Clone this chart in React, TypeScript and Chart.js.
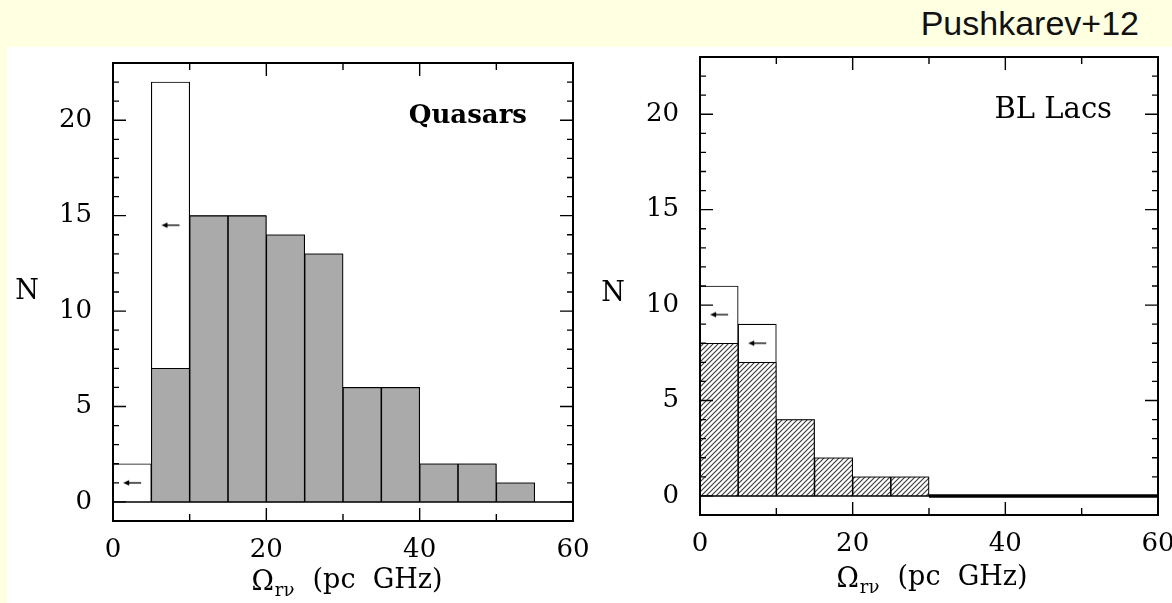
import React, { useEffect, useRef } from "react";
import { Chart, registerables } from "chart.js";

Chart.register(...registerables);

// ---- histogram data: Omega_r-nu in bins of 5 pc GHz ----
const binCenters = [2.5, 7.5, 12.5, 17.5, 22.5, 27.5, 32.5, 37.5, 42.5, 47.5, 52.5, 57.5];

// Quasars: measured values (filled) and measured + upper limits (open)
const quasarMeasured = [null, 7, 15, 15, 14, 13, 6, 6, 2, 2, 1, null];
const quasarWithLimits = [2, 22, 15, 15, 14, 13, 6, 6, 2, 2, 1, null];
const quasarLimitBins = [2.5, 7.5];
const quasarLimitLevels = [1, 14.5];
const quasarBaselineX = [0, 60];

// BL Lacs
const bllacMeasured = [8, 7, 4, 2, 1, 1, null, null, null, null, null, null];
const bllacWithLimits = [11, 9, 4, 2, 1, 1, null, null, null, null, null, null];
const bllacLimitBins = [2.5, 7.5];
const bllacLimitLevels = [9.5, 8];
const bllacBaselineX = [0, 60];
const bllacEmptyRangeX = [30, 60];

// axes
const xRange = [0, 60];
const yRange = [-1, 23];
const xLabelValues = [0, 20, 40, 60];
const yLabelValues = [0, 5, 10, 15, 20];
const xMajorStep = 20;
const xMinorStep = 10;
const yMajorStep = 5;
const yMinorStep = 1;

const SERIF = '"DejaVu Serif", "Liberation Serif", serif';
const BG = "rgb(255,255,225)";
const GREY = "#aaaaaa";

type Panel = {
  canvasLeft: number;
  canvasTop: number;
  canvasWidth: number;
  canvasHeight: number;
  area: { left: number; top: number; right: number; bottom: number };
  measured: (number | null)[];
  withLimits: (number | null)[];
  limitX: number[];
  limitY: number[];
  baselineX: number[];
  heavyBaselineX: number[] | null;
  hatched: boolean;
  label: string;
  labelFont: string;
  labelRight: number;
  labelBaseline: number;
  nX: number;
  nY: number;
  titleX: number;
  titleBaseline: number;
};

const quasarPanel: Panel = {
  canvasLeft: 0,
  canvasTop: 47,
  canvasWidth: 640,
  canvasHeight: 556,
  area: { left: 113, top: 63, right: 573, bottom: 521 },
  measured: quasarMeasured,
  withLimits: quasarWithLimits,
  limitX: quasarLimitBins,
  limitY: quasarLimitLevels,
  baselineX: quasarBaselineX,
  heavyBaselineX: null,
  hatched: false,
  label: "Quasars",
  labelFont: `bold 26px ${SERIF}`,
  labelRight: 527,
  labelBaseline: 123,
  nX: 27,
  nY: 292,
  titleX: 347,
  titleBaseline: 588,
};

const bllacPanel: Panel = {
  canvasLeft: 590,
  canvasTop: 47,
  canvasWidth: 600,
  canvasHeight: 556,
  area: { left: 700, top: 57, right: 1158, bottom: 515 },
  measured: bllacMeasured,
  withLimits: bllacWithLimits,
  limitX: bllacLimitBins,
  limitY: bllacLimitLevels,
  baselineX: bllacBaselineX,
  heavyBaselineX: bllacEmptyRangeX,
  hatched: true,
  label: "BL Lacs",
  labelFont: `29px ${SERIF}`,
  labelRight: 1112,
  labelBaseline: 118,
  nX: 613,
  nY: 294,
  titleX: 932,
  titleBaseline: 585,
};

function makeHatch(): CanvasPattern | string {
  const c = document.createElement("canvas");
  c.width = 5;
  c.height = 5;
  const g = c.getContext("2d");
  if (!g) return GREY;
  g.fillStyle = "#ffffff";
  g.fillRect(0, 0, 5, 5);
  g.strokeStyle = "#3c3c3c";
  g.lineWidth = 1.15;
  g.beginPath();
  g.moveTo(-1, 1);
  g.lineTo(1, -1);
  g.moveTo(0, 5);
  g.lineTo(5, 0);
  g.moveTo(4, 6);
  g.lineTo(6, 4);
  g.stroke();
  return g.createPattern(c, "repeat") || GREY;
}

// left-pointing arrow used as the marker for upper limits
function makeArrow(): HTMLCanvasElement {
  const c = document.createElement("canvas");
  c.width = 20;
  c.height = 8;
  const g = c.getContext("2d");
  if (g) {
    g.strokeStyle = "#000";
    g.fillStyle = "#000";
    g.lineWidth = 1.3;
    g.beginPath();
    g.moveTo(4, 4);
    g.lineTo(19, 4);
    g.stroke();
    g.beginPath();
    g.moveTo(1, 4);
    g.lineTo(7, 1.2);
    g.lineTo(7, 6.8);
    g.closePath();
    g.fill();
  }
  return c;
}

const framePlugin = {
  id: "frame",
  afterDatasetsDraw(chart: any, _args: any, opts: any) {
    const { ctx, chartArea: a } = chart;
    const xs = chart.scales.x;
    const ys = chart.scales.y;
    ctx.save();
    ctx.strokeStyle = "#000";
    ctx.lineWidth = 1.4;
    ctx.beginPath();
    for (let v = yRange[0]; v <= yRange[1]; v += yMinorStep) {
      const py = ys.getPixelForValue(v);
      const len = v % yMajorStep === 0 ? 13 : 6;
      ctx.moveTo(a.left, py);
      ctx.lineTo(a.left + len, py);
      ctx.moveTo(a.right, py);
      ctx.lineTo(a.right - len, py);
    }
    for (let v = xRange[0]; v <= xRange[1]; v += xMinorStep) {
      const px = xs.getPixelForValue(v);
      const len = v % xMajorStep === 0 ? 13 : 7;
      ctx.moveTo(px, a.bottom);
      ctx.lineTo(px, a.bottom - len);
      ctx.moveTo(px, a.top);
      ctx.lineTo(px, a.top + len);
    }
    ctx.stroke();
    ctx.lineWidth = 2;
    ctx.strokeRect(a.left, a.top, a.right - a.left, a.bottom - a.top);

    ctx.fillStyle = "#000";
    // panel name
    ctx.font = opts.labelFont;
    ctx.textAlign = "right";
    ctx.textBaseline = "alphabetic";
    ctx.fillText(opts.label, opts.labelRight, opts.labelBaseline);

    // y-axis title
    ctx.font = `27px ${SERIF}`;
    ctx.textAlign = "center";
    ctx.textBaseline = "middle";
    ctx.fillText("N", opts.nX, opts.nY);

    // x-axis title: Ω with subscript rν, then the unit
    ctx.textBaseline = "alphabetic";
    ctx.textAlign = "left";
    const mainFont = `27px ${SERIF}`;
    const subFont = `18px ${SERIF}`;
    ctx.font = mainFont;
    const wOmega = ctx.measureText("Ω").width;
    const rest = "  (pc  GHz)";
    const wRest = ctx.measureText(rest).width;
    ctx.font = subFont;
    const sub = "rν";
    const wSub = ctx.measureText(sub).width + 2;
    const total = wOmega + wSub + wRest;
    let tx = opts.titleX - total / 2;
    ctx.font = mainFont;
    ctx.fillText("Ω", tx, opts.titleBaseline + 2);
    tx += wOmega + 1;
    ctx.font = subFont;
    ctx.fillText(sub, tx, opts.titleBaseline + 8);
    tx += wSub - 1;
    ctx.font = mainFont;
    ctx.fillText(rest, tx, opts.titleBaseline);
    ctx.restore();
  },
};

function HistogramPanel({ panel }: { panel: Panel }) {
  const ref = useRef<HTMLCanvasElement | null>(null);

  useEffect(() => {
    const canvas = ref.current;
    if (!canvas) return;
    const p = panel;
    const ox = p.canvasLeft;
    const oy = p.canvasTop;
    const fill = p.hatched ? makeHatch() : GREY;
    const arrow = makeArrow();
    const toPoints = (vals: (number | null)[]) =>
      binCenters.map((x, i) => ({ x, y: vals[i] }));

    const datasets: any[] = [
      {
        type: "scatter",
        data: p.limitX.map((x, i) => ({ x, y: p.limitY[i] })),
        pointStyle: arrow,
        pointRadius: 8,
        order: 0,
      },
      {
        type: "line",
        data: p.baselineX.map((x) => ({ x, y: 0 })),
        borderColor: "#000",
        borderWidth: 1.5,
        pointRadius: 0,
        order: 0,
      },
    ];
    if (p.heavyBaselineX) {
      datasets.push({
        type: "line",
        data: p.heavyBaselineX.map((x) => ({ x, y: 0 })),
        borderColor: "#000",
        borderWidth: 3.5,
        pointRadius: 0,
        order: 0,
      });
    }
    datasets.push(
      {
        type: "bar",
        data: toPoints(p.measured),
        backgroundColor: fill,
        borderColor: "#000",
        borderWidth: 1.1,
        grouped: false,
        barPercentage: 1,
        categoryPercentage: 1,
        order: 1,
      },
      {
        type: "bar",
        data: toPoints(p.withLimits),
        backgroundColor: "#ffffff",
        borderColor: "#000",
        borderWidth: 1.1,
        grouped: false,
        barPercentage: 1,
        categoryPercentage: 1,
        order: 2,
      }
    );

    const tickFont = { family: SERIF, size: 26 };

    const chart = new Chart(canvas, {
      type: "bar",
      data: { datasets },
      options: {
        animation: false,
        responsive: false,
        events: [],
        layout: {
          padding: {
            left: 0,
            top: p.area.top - oy,
            right: ox + p.canvasWidth - p.area.right,
            bottom: 0,
          },
        },
        plugins: {
          legend: { display: false },
          tooltip: { enabled: false },
          frame: {
            label: p.label,
            labelFont: p.labelFont,
            labelRight: p.labelRight - ox,
            labelBaseline: p.labelBaseline - oy,
            nX: p.nX - ox,
            nY: p.nY - oy,
            titleX: p.titleX - ox,
            titleBaseline: p.titleBaseline - oy,
          },
        } as any,
        scales: {
          x: {
            type: "linear",
            min: xRange[0],
            max: xRange[1],
            offset: false,
            grid: { display: false, drawTicks: false, tickLength: 0, offset: false },
            border: { display: false },
            ticks: {
              autoSkip: false,
              maxRotation: 0,
              padding: 14,
              color: "#000",
              font: tickFont,
            },
            afterBuildTicks: (s: any) => {
              s.ticks = xLabelValues.map((value) => ({ value }));
            },
            afterFit: (s: any) => {
              s.height = oy + p.canvasHeight - p.area.bottom;
              s.paddingLeft = 0;
              s.paddingRight = 0;
            },
          },
          y: {
            type: "linear",
            min: yRange[0],
            max: yRange[1],
            grid: { display: false, drawTicks: false, tickLength: 0 },
            border: { display: false },
            ticks: {
              autoSkip: false,
              padding: 21,
              color: "#000",
              font: tickFont,
            },
            afterBuildTicks: (s: any) => {
              s.ticks = yLabelValues.map((value) => ({ value }));
            },
            afterFit: (s: any) => {
              s.width = p.area.left - ox;
              s.paddingTop = 0;
              s.paddingBottom = 0;
            },
          },
        } as any,
      },
      plugins: [framePlugin as any],
    });
    return () => chart.destroy();
  }, [panel]);

  return (
    <canvas
      ref={ref}
      width={panel.canvasWidth}
      height={panel.canvasHeight}
      style={{
        position: "absolute",
        left: panel.canvasLeft,
        top: panel.canvasTop,
        width: panel.canvasWidth,
        height: panel.canvasHeight,
      }}
    />
  );
}

export default function App() {
  return (
    <div
      style={{
        position: "absolute",
        left: 0,
        top: 0,
        width: 1172,
        height: 603,
        overflow: "hidden",
        background: BG,
      }}
    >
      <div
        style={{
          position: "absolute",
          right: 33,
          top: 6,
          fontFamily: '"Liberation Sans", Arial, sans-serif',
          fontSize: 34,
          lineHeight: "34px",
          color: "#111",
          whiteSpace: "nowrap",
        }}
      >
        Pushkarev+12
      </div>
      <div
        style={{
          position: "absolute",
          left: 7,
          top: 47,
          width: 1165,
          height: 556,
          background: "#ffffff",
        }}
      />
      <HistogramPanel panel={quasarPanel} />
      <HistogramPanel panel={bllacPanel} />
    </div>
  );
}
